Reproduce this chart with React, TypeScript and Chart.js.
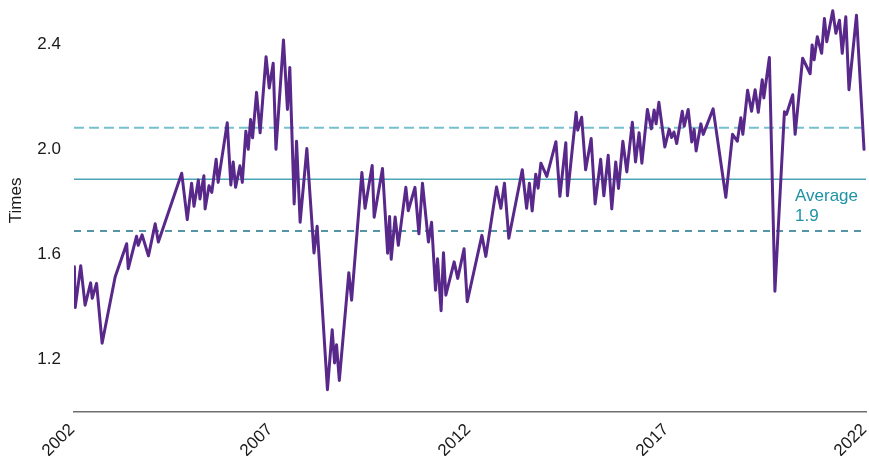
import React, { useEffect, useRef } from "react";
import { Chart, registerables } from "chart.js";

Chart.register(...registerables);

const DATES = [
  2002.01, 2002.03, 2002.17, 2002.28, 2002.42, 2002.46, 2002.57, 2002.71, 2003.04, 2003.33,
  2003.37, 2003.58, 2003.62, 2003.72, 2003.88, 2004.05, 2004.13, 2004.72, 2004.86, 2004.97,
  2005.03, 2005.14, 2005.18, 2005.28, 2005.31, 2005.41, 2005.48, 2005.59, 2005.64, 2005.87,
  2005.96, 2006.02, 2006.08, 2006.19, 2006.25, 2006.34, 2006.40, 2006.46, 2006.51, 2006.61,
  2006.70, 2006.85, 2006.93, 2007.03, 2007.10, 2007.29, 2007.39, 2007.45, 2007.56, 2007.62,
  2007.71, 2007.88, 2008.06, 2008.14, 2008.40, 2008.52, 2008.58, 2008.63, 2008.70, 2008.94,
  2009.01, 2009.27, 2009.35, 2009.53, 2009.58, 2009.79, 2009.92, 2009.97, 2010.01, 2010.11,
  2010.19, 2010.38, 2010.44, 2010.61, 2010.71, 2010.80, 2010.95, 2011.03, 2011.13, 2011.18,
  2011.27, 2011.33, 2011.39, 2011.60, 2011.69, 2011.85, 2011.93, 2012.30, 2012.40, 2012.67,
  2012.78, 2012.87, 2012.98, 2013.32, 2013.43, 2013.50, 2013.57, 2013.66, 2013.72, 2013.79,
  2013.94, 2014.17, 2014.27, 2014.42, 2014.46, 2014.68, 2014.72, 2014.82, 2014.92, 2015.06,
  2015.16, 2015.30, 2015.38, 2015.49, 2015.58, 2015.68, 2015.75, 2015.86, 2015.96, 2016.10,
  2016.18, 2016.27, 2016.34, 2016.48, 2016.58, 2016.65, 2016.70, 2016.77, 2016.92, 2017.03,
  2017.09, 2017.15, 2017.22, 2017.36, 2017.41, 2017.51, 2017.60, 2017.66, 2017.71, 2017.83,
  2017.89, 2018.14, 2018.46, 2018.63, 2018.75, 2018.84, 2018.89, 2019.01, 2019.11, 2019.20,
  2019.28, 2019.38, 2019.42, 2019.56, 2019.70, 2019.94, 2019.99, 2020.15, 2020.21, 2020.40,
  2020.59, 2020.64, 2020.69, 2020.77, 2020.88, 2020.95, 2021.01, 2021.16, 2021.24, 2021.33,
  2021.40, 2021.49, 2021.57, 2021.76, 2021.95,
];

const TIMES = [
  1.552, 1.397, 1.556, 1.406, 1.491, 1.432, 1.489, 1.261, 1.514, 1.640,
  1.545, 1.669, 1.634, 1.674, 1.594, 1.716, 1.647, 1.909, 1.732, 1.871,
  1.783, 1.883, 1.811, 1.899, 1.773, 1.861, 1.836, 1.962, 1.874, 2.101,
  1.864, 1.952, 1.855, 1.937, 1.874, 2.069, 2.000, 2.114, 2.044, 2.217,
  2.063, 2.353, 2.234, 2.328, 2.000, 2.417, 2.152, 2.312, 1.792, 2.031,
  1.722, 2.003, 1.605, 1.707, 1.084, 1.312, 1.186, 1.255, 1.119, 1.530,
  1.425, 1.912, 1.775, 1.938, 1.741, 1.927, 1.604, 1.744, 1.581, 1.742,
  1.634, 1.855, 1.766, 1.855, 1.678, 1.871, 1.647, 1.722, 1.463, 1.583,
  1.385, 1.606, 1.444, 1.571, 1.508, 1.621, 1.419, 1.672, 1.592, 1.856,
  1.775, 1.871, 1.661, 1.922, 1.775, 1.871, 1.765, 1.905, 1.852, 1.947,
  1.897, 2.029, 1.821, 2.025, 1.823, 2.141, 2.073, 2.122, 1.922, 2.041,
  1.792, 1.962, 1.823, 1.977, 1.773, 1.952, 1.851, 2.031, 1.914, 2.103,
  1.952, 2.063, 1.947, 2.152, 2.078, 2.150, 2.097, 2.179, 2.009, 2.077,
  2.045, 2.066, 2.022, 2.145, 2.088, 2.152, 2.028, 2.076, 1.994, 2.097,
  2.057, 2.154, 1.817, 2.057, 2.031, 2.120, 2.057, 2.225, 2.145, 2.227,
  2.141, 2.265, 2.196, 2.350, 1.459, 2.143, 2.133, 2.208, 2.057, 2.347,
  2.288, 2.398, 2.341, 2.429, 2.366, 2.499, 2.410, 2.528, 2.442, 2.492,
  2.366, 2.505, 2.227, 2.511, 2.000,
];

const X_TICKS = [2002, 2007, 2012, 2017, 2022];
const Y_TICKS = [1.2, 1.6, 2.0, 2.4];
const AVERAGE = 1.886;
const UPPER_BAND = 2.082;
const LOWER_BAND = 1.689;
const AVERAGE_LABEL = ["Average", "1.9"];
const Y_TITLE = "Times";

const FONT = "'Liberation Sans', Arial, Helvetica, sans-serif";

const textPlugin = {
  id: "textPlugin",
  afterDraw(chart: any) {
    const ctx = chart.ctx;
    const y = chart.scales.y;
    const area = chart.chartArea;
    ctx.save();
    ctx.font = `17px ${FONT}`;
    ctx.fillStyle = "#1a1a1a";
    ctx.textAlign = "center";
    ctx.textBaseline = "middle";
    ctx.translate(16.5, (area.top + area.bottom) / 2 - 8);
    ctx.rotate(-Math.PI / 2);
    ctx.fillText(Y_TITLE, 0, 0);
    ctx.restore();

    ctx.save();
    ctx.font = `17px ${FONT}`;
    ctx.fillStyle = "#1e93a4";
    ctx.textAlign = "left";
    ctx.textBaseline = "alphabetic";
    const ay = y.getPixelForValue(AVERAGE);
    ctx.fillText(AVERAGE_LABEL[0], 795, ay + 21.5);
    ctx.fillText(AVERAGE_LABEL[1], 795, ay + 42);
    ctx.restore();
  },
};

function hline(value: number, color: string, width: number, dash: number[]) {
  return {
    data: [
      { x: X_TICKS[0], y: value },
      { x: X_TICKS[X_TICKS.length - 1], y: value },
    ],
    borderColor: color,
    borderWidth: width,
    borderDash: dash,
    pointRadius: 0,
    fill: false,
  };
}

export default function App() {
  const ref = useRef<HTMLCanvasElement>(null);

  useEffect(() => {
    if (!ref.current) return;
    const n = Math.min(DATES.length, TIMES.length);
    const points = [];
    for (let i = 0; i < n; i++) points.push({ x: DATES[i], y: TIMES[i] });

    const chart = new Chart(ref.current, {
      type: "line",
      data: {
        datasets: [
          {
            data: points,
            borderColor: "#58298a",
            borderWidth: 3,
            pointRadius: 0,
            tension: 0,
            fill: false,
            borderJoinStyle: "round",
            borderCapStyle: "round",
          } as any,
          hline(UPPER_BAND, "#76c1cd", 2, [10, 5]),
          hline(AVERAGE, "#4aa6b4", 1.5, []),
          hline(LOWER_BAND, "#1c7487", 1.5, [7, 6]),
        ],
      },
      options: {
        animation: false,
        responsive: false,
        maintainAspectRatio: false,
        layout: { padding: { top: 5, right: 3, left: 0, bottom: 0 } },
        plugins: {
          legend: { display: false },
          tooltip: { enabled: false },
        },
        scales: {
          x: {
            type: "linear",
            min: X_TICKS[0],
            max: X_TICKS[X_TICKS.length - 1],
            grid: { display: false, drawTicks: false },
            border: { display: true, color: "#6e6e6e", width: 1.5 },
            afterBuildTicks: (s: any) => {
              s.ticks = X_TICKS.map((v) => ({ value: v }));
            },
            afterFit: (s: any) => {
              s.height = 44.3;
              s.paddingLeft = 0;
              s.paddingRight = 0;
              s.paddingTop = 0;
              s.paddingBottom = 0;
            },
            ticks: {
              autoSkip: false,
              minRotation: 45,
              maxRotation: 45,
              padding: 8,
              labelOffset: -2,
              color: "#1a1a1a",
              font: { family: FONT, size: 17 },
              callback: (v: any) => String(v),
            },
          },
          y: {
            type: "linear",
            min: 1.0,
            max: 2.55,
            grid: { display: false, drawTicks: false },
            border: { display: false },
            afterBuildTicks: (s: any) => {
              s.ticks = Y_TICKS.map((v) => ({ value: v }));
            },
            afterFit: (s: any) => {
              s.width = 74;
              s.paddingLeft = 0;
              s.paddingRight = 0;
              s.paddingTop = 0;
              s.paddingBottom = 0;
            },
            ticks: {
              padding: 13,
              color: "#1a1a1a",
              font: { family: FONT, size: 17 },
              callback: (v: any) => Number(v).toFixed(1),
            },
          },
        },
      },
      plugins: [textPlugin],
    } as any);
    return () => chart.destroy();
  }, []);

  return (
    <div style={{ position: "fixed", left: 0, top: 0, width: 869, height: 456, background: "#fff" }}>
      <canvas ref={ref} width={869} height={456} style={{ width: 869, height: 456, display: "block" }} />
    </div>
  );
}
